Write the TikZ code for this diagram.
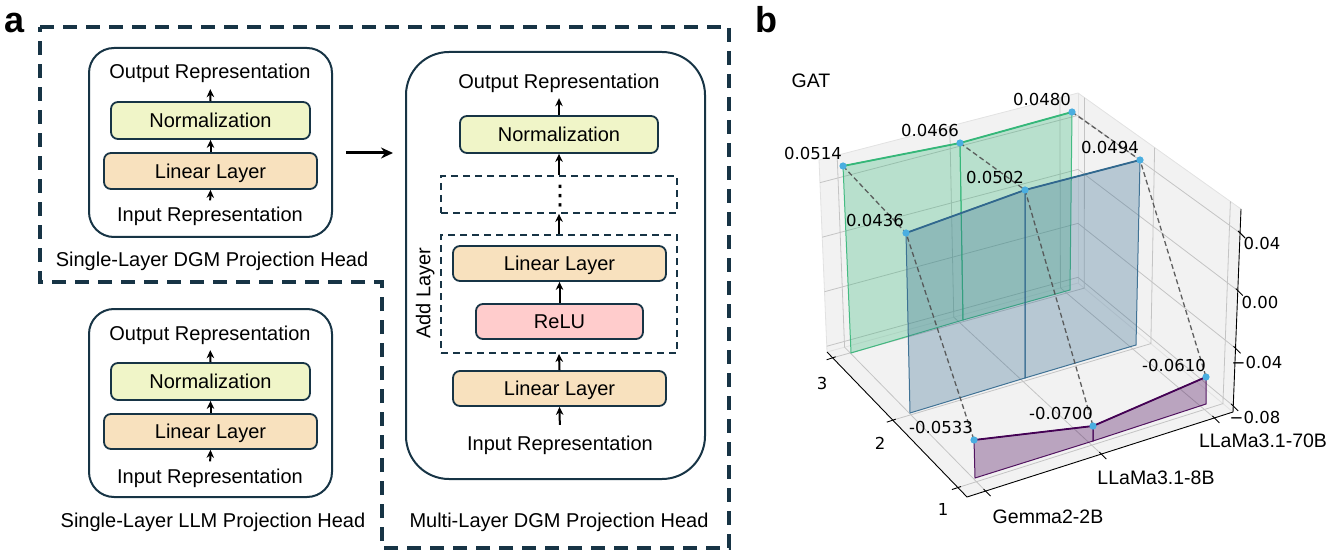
\documentclass[tikz,border=0pt]{standalone}
\usepackage{fontspec}
\setmainfont{Liberation Sans}
\newfontfamily\dejavu{DejaVu Sans}
\usetikzlibrary{arrows.meta,calc}
\newcommand{\myfa}{\fontsize{20}{24}\selectfont}
\newcommand{\mynum}{\dejavu\fontsize{16.5}{20}\selectfont}
\newcommand{\mycat}{\fontsize{19.5}{23}\selectfont}
\definecolor{navy}{HTML}{173445}
\definecolor{normfill}{HTML}{F0F5C8}
\definecolor{linfill}{HTML}{F8E1BE}
\definecolor{relufill}{HTML}{FFCCCC}
\definecolor{paneg}{HTML}{F2F2F2}
\definecolor{paneedge}{HTML}{E2E2E2}
\definecolor{gridg}{HTML}{C4C4C4}
\definecolor{vgreen}{HTML}{35B779}
\definecolor{vblue}{HTML}{31688E}
\definecolor{vpurple}{HTML}{440154}
\definecolor{ptblue}{HTML}{4AAEE0}
\definecolor{dashg}{HTML}{505050}
\begin{document}
\begin{tikzpicture}[x=1pt,y=-1pt,
  outerbox/.style={draw=navy, line width=2pt, rounded corners=25pt, inner sep=0pt},
  layerbox/.style={draw=navy, line width=1.8pt, rounded corners=7pt, inner sep=0pt, text height=14.5pt, text depth=0pt, font=\myfa},
  dbox/.style={draw=navy, line width=1.8pt, dash pattern=on 7pt off 5pt, inner sep=0pt},
  lbl/.style={inner sep=0pt, text height=14.5pt, text depth=0pt, font=\myfa, anchor=base},
  arr/.style={-{Stealth[length=8pt,width=7.5pt]}, line width=2pt, black},
  bigarr/.style={-{Stealth[length=12pt,width=11pt]}, line width=3pt, black},
  bigdash/.style={draw=navy, line width=3.2pt, dash pattern=on 14pt off 9pt},
  plabel/.style={font=\fontsize{36}{40}\selectfont\bfseries, inner sep=0pt, anchor=base},
  numlbl/.style={font=\mynum, inner sep=0pt},
  catlbl/.style={font=\mycat, inner sep=0pt},
  gridl/.style={draw=gridg, line width=0.8pt},
  axisl/.style={draw=black, line width=0.9pt},
  gpoly/.style={fill=vgreen, fill opacity=0.3, draw=vgreen, draw opacity=0.9, line width=1pt},
  bpoly/.style={fill=vblue, fill opacity=0.3, draw=vblue, draw opacity=0.9, line width=1pt},
  ppoly/.style={fill=vpurple, fill opacity=0.32, draw=vpurple, draw opacity=0.9, line width=1pt},
  dline/.style={draw=dashg, draw opacity=0.9, line width=1.3pt, dash pattern=on 5pt off 3pt},
]
\useasboundingbox (0,0) rectangle (1329,553);

% ---------------- panel a ----------------
\node[plabel] (la) at (15,33) {a};
\draw[bigdash] (40,27) -- (729,27) -- (729,548) -- (382,548) -- (382,282) -- (40,282) -- cycle;

% single-layer DGM
\node[outerbox, minimum width=243pt, minimum height=189pt] (sd) at (210.5,142.5) {};
\node[lbl] (sdOut) at (210,79) {Output Representation};
\node[layerbox, fill=normfill, minimum width=199pt, minimum height=37pt] (sdNorm) at (210.5,120.5) {Normalization};
\node[layerbox, fill=linfill, minimum width=213pt, minimum height=36pt] (sdLin) at (210.5,171) {Linear Layer};
\node[lbl] (sdIn) at (210,222) {Input Representation};
\node[lbl] (sdCap) at (212,266) {Single-Layer DGM Projection Head};
\draw[arr] (sdLin.north) -- (sdNorm.south);
\draw[arr, shorten >=10pt] (sdNorm.north) -- (sdOut.south);
\draw[arr, shorten <=7pt] (sdIn.north) -- (sdLin.south);

% single-layer LLM
\node[outerbox, minimum width=243pt, minimum height=188pt] (sl) at (210.5,403) {};
\node[lbl] (slOut) at (210,340) {Output Representation};
\node[layerbox, fill=normfill, minimum width=199pt, minimum height=37pt] (slNorm) at (210.5,381.5) {Normalization};
\node[layerbox, fill=linfill, minimum width=213pt, minimum height=35pt] (slLin) at (210.5,431.5) {Linear Layer};
\node[lbl] (slIn) at (210,483) {Input Representation};
\node[lbl] (slCap) at (213,527) {Single-Layer LLM Projection Head};
\draw[arr] (slLin.north) -- (slNorm.south);
\draw[arr, shorten >=10pt] (slNorm.north) -- (slOut.south);
\draw[arr, shorten <=7pt] (slIn.north) -- (slLin.south);

% multi-layer DGM
\node[outerbox, rounded corners=43pt, minimum width=299pt, minimum height=427pt] (ml) at (555.5,265.5) {};
\node[lbl] (mlOut) at (559,89) {Output Representation};
\node[layerbox, fill=normfill, minimum width=198pt, minimum height=37pt] (mlNorm) at (559,134.5) {Normalization};
\node[dbox, minimum width=236pt, minimum height=37pt] (mlD1) at (559,194.5) {};
\node[font=\dejavu\fontsize{27}{30}\selectfont, inner sep=0pt] (mlDots) at (560,196.5) {⋮};
\node[dbox, minimum width=236pt, minimum height=118pt] (mlD2) at (559,294) {};
\node[layerbox, fill=linfill, minimum width=213pt, minimum height=35pt] (mlLinA) at (559.5,263.5) {Linear Layer};
\node[layerbox, fill=relufill, minimum width=167pt, minimum height=35pt] (mlRelu) at (559.5,321.5) {ReLU};
\node[lbl, anchor=center, rotate=90] (mlAdd) at (423,293) {Add Layer};
\node[layerbox, fill=linfill, minimum width=213pt, minimum height=35pt] (mlLinB) at (559.5,388.5) {Linear Layer};
\node[lbl] (mlIn) at (560,450) {Input Representation};
\node[lbl] (mlCap) at (559,527) {Multi-Layer DGM Projection Head};
\draw[arr, shorten >=9pt] (mlNorm.north) -- (mlOut.south);
\draw[arr] (mlD1.north) -- (mlNorm.south);
\draw[arr] (mlD2.north) -- (mlD1.south);
\draw[arr] (mlRelu.north) -- (mlLinA.south);
\draw[arr] (mlLinB.north) -- (mlD2.south);
\draw[arr, shorten <=10.5pt] (mlIn.north) -- (mlLinB.south);

\draw[bigarr] ([shift={(13,10.5)}]sd.east) -- ([shift={(60,10.5)}]sd.east);

% ---------------- panel b ----------------
\node[plabel] (lb) at (766,33) {b};
\node[catlbl] (gat) at (811,81) {GAT};

\coordinate (FF) at (967,497);
\coordinate (FR) at (1233,412);
\coordinate (FL) at (827,352);
\coordinate (FB) at (1078,283);
\coordinate (LT) at (819,160);
\coordinate (BT) at (1078,93);
\coordinate (RT) at (1241,209);

\fill[paneg] (FF) -- (FR) -- (FB) -- (FL) -- cycle;
\fill[paneg] (FL) -- (FB) -- (BT) -- (LT) -- cycle;
\fill[paneg] (FB) -- (FR) -- (RT) -- (BT) -- cycle;
\draw[paneedge, line width=0.8pt] (FL) -- (LT) -- (BT) -- (RT);
\draw[paneedge, line width=0.8pt] (FL) -- (FB) -- (FR);
\draw[paneedge, line width=0.8pt] (FB) -- (BT);

\foreach \t in {0.07,0.505,0.93}{
  \draw[gridl] ($(FF)!\t!(FR)$) -- ($(FL)!\t!(FB)$) -- ($(LT)!\t!(BT)$);
}
\foreach \s in {0.065,0.53,0.96}{
  \draw[gridl] ($(FF)!\s!(FL)$) -- ($(FR)!\s!(FB)$) -- ($(RT)!\s!(BT)$);
}
\foreach \f in {0.03,0.314,0.598,0.882}{
  \draw[gridl] ($(FL)!\f!(LT)$) -- ($(FB)!\f!(BT)$) -- ($(FR)!\f!(RT)$);
}

\draw[axisl] (FL) -- (FF) -- (FR) -- (RT);
\foreach \t in {0.07,0.505,0.93}{
  \draw[axisl] ($(FF)!\t!(FR)+(-2,-2)$) -- ($(FF)!\t!(FR)+(5,5)$);
}
\foreach \s in {0.065,0.53,0.96}{
  \draw[axisl] ($(FF)!\s!(FL)+(3,-1)$) -- ($(FF)!\s!(FL)+(-6,2)$);
}
\foreach \f in {0.03,0.314,0.598,0.882}{
  \draw[axisl] ($(FR)!\f!(RT)+(-2,-2)$) -- ($(FR)!\f!(RT)+(5,5)$);
}

% data
\coordinate (G0t) at (843,166); \coordinate (G0b) at (851,353);
\coordinate (G1t) at (960,143); \coordinate (G1b) at (963,320);
\coordinate (G2t) at (1072,112); \coordinate (G2b) at (1070,290);
\coordinate (B0t) at (906,233); \coordinate (B0b) at (910,413);
\coordinate (B1t) at (1025,190); \coordinate (B1b) at (1025,378);
\coordinate (B2t) at (1140,160); \coordinate (B2b) at (1136,345);
\coordinate (P0t) at (974,440); \coordinate (P0b) at (975,478);
\coordinate (P1t) at (1093,426); \coordinate (P1b) at (1093,441);
\coordinate (P2t) at (1206,377); \coordinate (P2b) at (1206,404);

\filldraw[gpoly] (G0t) -- (G1t) -- (G1b) -- (G0b) -- cycle;
\filldraw[gpoly] (G1t) -- (G2t) -- (G2b) -- (G1b) -- cycle;
\draw[vgreen, line width=1.8pt] (G0t) -- (G1t) -- (G2t);
\filldraw[bpoly] (B0t) -- (B1t) -- (B1b) -- (B0b) -- cycle;
\filldraw[bpoly] (B1t) -- (B2t) -- (B2b) -- (B1b) -- cycle;
\draw[vblue, line width=1.8pt] (B0t) -- (B1t) -- (B2t);
\filldraw[ppoly] (P0t) -- (P1t) -- (P1b) -- (P0b) -- cycle;
\filldraw[ppoly] (P1t) -- (P2t) -- (P2b) -- (P1b) -- cycle;
\draw[vpurple, line width=1.8pt] (P0t) -- (P1t) -- (P2t);

\draw[dline] (G0t) -- (B0t) -- (P0t);
\draw[dline] (G1t) -- (B1t) -- (P1t);
\draw[dline] (G2t) -- (B2t) -- (P2t);

\foreach \p in {G0t,G1t,G2t,B0t,B1t,B2t,P0t,P1t,P2t}{
  \fill[ptblue] (\p) circle[radius=3.6pt];
}

\node[numlbl] (vG0) at (813,153) {0.0514};
\node[numlbl] (vG1) at (930,130) {0.0466};
\node[numlbl] (vG2) at (1042,99) {0.0480};
\node[numlbl] (vB0) at (875,220) {0.0436};
\node[numlbl] (vB1) at (995,177) {0.0502};
\node[numlbl] (vB2) at (1110,147) {0.0494};
\node[numlbl] (vP0) at (941,427) {-0.0533};
\node[numlbl] (vP1) at (1061,413) {-0.0700};
\node[numlbl] (vP2) at (1174,365) {-0.0610};

\node[numlbl] (z1) at (1262,243) {0.04};
\node[numlbl] (z2) at (1260,302) {0.00};
\node[numlbl] (z3) at (1257,362) {−0.04};
\node[numlbl] (z4) at (1255,417) {−0.08};
\node[numlbl] (y3) at (822,383) {3};
\node[numlbl] (y2) at (880,443) {2};
\node[numlbl] (y1) at (943,509) {1};
\node[catlbl] (x1) at (1048,517) {Gemma2-2B};
\node[catlbl] (x2) at (1156,478) {LLaMa3.1-8B};
\node[catlbl] (x3) at (1263,441) {LLaMa3.1-70B};
\end{tikzpicture}
\end{document}
